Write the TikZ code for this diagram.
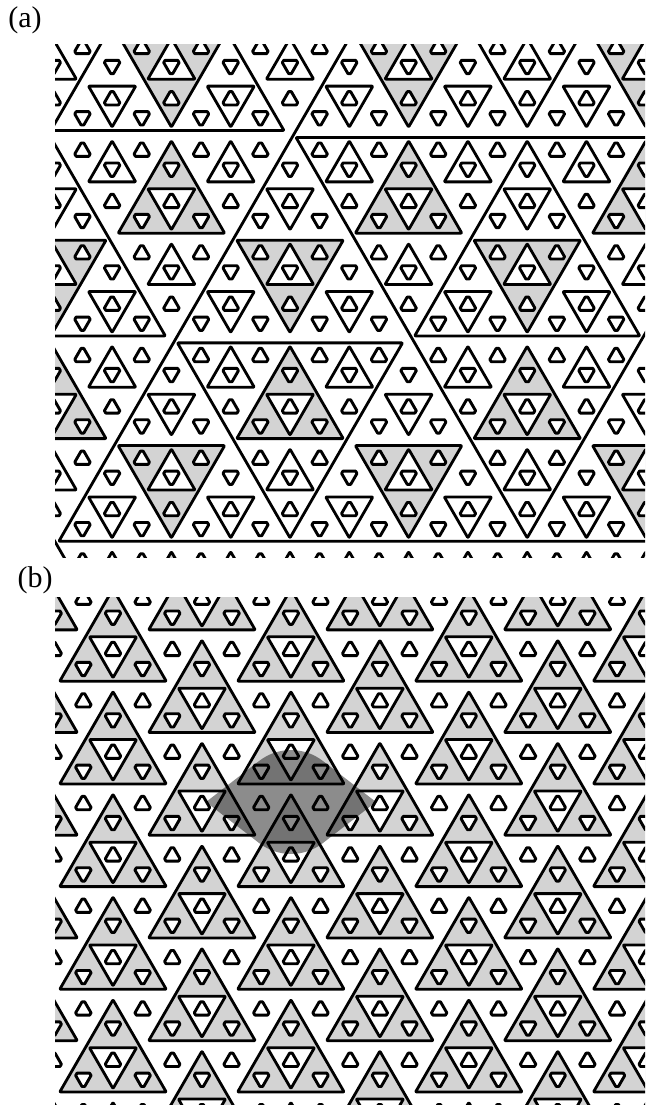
\documentclass[tikz,border=0pt]{standalone}
\usepackage{fontspec}
\setmainfont{Liberation Serif}

\definecolor{tilegray}{RGB}{211,211,211}

\tikzset{
  tileline/.style={line width=2.8pt, line join=round, rounded corners=0.8pt},
  graytri/.style={tileline, fill=tilegray},
  whitetri/.style={tileline, fill=white},
  bigtri/.style={tileline},
  hole/.style={line width=2.9pt, line join=round, fill=white},
  lens/.style={fill=black, opacity=0.45},
  panellabel/.style={font=\fontsize{30}{34}\selectfont, inner sep=0pt},
}

% inset triangles on the lattice (u counts a/2, v counts rows)
\newcommand\uptri[4][]{%
  \draw[#1] ({#2},{#3+0.136}) -- ({#2-#4+0.204},{#3+#4-0.068})
    -- ({#2+#4-0.204},{#3+#4-0.068}) -- cycle;}
\newcommand\dntri[4][]{%
  \draw[#1] ({#2},{#3-0.136}) -- ({#2-#4+0.204},{#3-#4+0.068})
    -- ({#2+#4-0.204},{#3-#4+0.068}) -- cycle;}
% small holes
\newcommand\uphole[2]{\draw[hole] ({#1},{#2}) +(80.5:8.2pt) -- +(99.5:8.2pt)
  -- +(200.5:8.2pt) -- +(219.5:8.2pt) -- +(320.5:8.2pt) -- +(339.5:8.2pt) -- cycle;}
\newcommand\dnhole[2]{\draw[hole] ({#1},{#2}) +(20.5:8.2pt) -- +(39.5:8.2pt)
  -- +(140.5:8.2pt) -- +(159.5:8.2pt) -- +(260.5:8.2pt) -- +(279.5:8.2pt) -- cycle;}
\newcommand\holerows[4]{%
  \foreach \hv in {#1,...,#2} \foreach \hk in {#3,...,#4} {
    \pgfmathtruncatemacro\hu{2*\hk+mod(\hv+100,2)}
    \dnhole{\hu}{\hv+2/3}
    \uphole{\hu+1}{\hv+1/3}
  }}

\begin{document}
\begin{tikzpicture}[x=1pt, y=-1pt]
\useasboundingbox (0,0) rectangle (645,1105);

\node[panellabel] (labela) at (25,20) {(a)};
\node[panellabel] (labelb) at (35,580) {(b)};

% (a) nested triangles
\begin{scope}
  \clip (55,45) rectangle (645,557);
  \begin{scope}[shift={(290pt,-134pt)}, x={(29.65pt,0pt)}, y={(0pt,-51.35pt)}]
    % shaded centres of the 4a triangles
    \foreach \j in {-1,...,2} \foreach \i in {-3,...,3} {
      \pgfmathsetmacro\pu{4*(2*\i+\j)}\pgfmathsetmacro\pv{4*\j}
      \dntri[graytri]{\pu}{\pv+4}{2}
      \uptri[graytri]{\pu+4}{\pv}{2}
    }
    % centres of the 2a triangles
    \foreach \j in {-2,...,4} \foreach \i in {-6,...,6} {
      \pgfmathsetmacro\pu{2*(2*\i+\j)}\pgfmathsetmacro\pv{2*\j}
      \dntri[whitetri]{\pu}{\pv+2}{1}
      \uptri[whitetri]{\pu+2}{\pv}{1}
    }
    % centres of the 8a triangles
    \foreach \j in {-1,...,1} \foreach \i in {-2,...,2} {
      \pgfmathsetmacro\pu{8*(2*\i+\j)}\pgfmathsetmacro\pv{8*\j}
      \dntri[bigtri]{\pu}{\pv+8}{4}
      \uptri[bigtri]{\pu+8}{\pv}{4}
    }
    % centres of the 16a triangles
    \foreach \j in {-1,...,1} \foreach \i in {-2,...,1} {
      \pgfmathsetmacro\pu{8+16*(2*\i+\j)}\pgfmathsetmacro\pv{-8+16*\j}
      \dntri[bigtri]{\pu}{\pv+16}{8}
      \uptri[bigtri]{\pu+16}{\pv}{8}
    }
    % centres of the 32a triangles
    \foreach \j in {-1,0} \foreach \i in {-1,...,1} {
      \pgfmathsetmacro\pu{-24+32*(2*\i+\j)}\pgfmathsetmacro\pv{-8+32*\j}
      \dntri[bigtri]{\pu}{\pv+32}{16}
      \uptri[bigtri]{\pu+32}{\pv}{16}
    }
    \dntri[bigtri]{8}{24}{32}
    \holerows{-3}{8}{-6}{8}
  \end{scope}
\end{scope}

% (b) periodic arrangement
\begin{scope}
  \clip (55,597) rectangle (645,1105);
  \begin{scope}[shift={(113pt,-684.7pt)}, x={(29.65pt,0pt)}, y={(0pt,-51.35pt)}]
    \foreach \j in {-1,...,6} \foreach \i in {-4,...,5} {
      \pgfmathsetmacro\pu{3*\j}\pgfmathsetmacro\pv{2*\i+\j}
      \uptri[graytri]{\pu}{\pv}{2}
      \dntri[whitetri]{\pu}{\pv+2}{1}
    }
    \holerows{-3}{8}{-2}{10}
  \end{scope}
  % highlighted patch
  \fill[lens] (206,802) -- ++(53.2,-41.1) arc[start angle=127.7, end angle=52.3, radius=52pt]
    -- (376,802) -- ++(-53.2,41.1) arc[start angle=-52.3, end angle=-127.7, radius=52pt] -- cycle;
\end{scope}
\end{tikzpicture}
\end{document}
